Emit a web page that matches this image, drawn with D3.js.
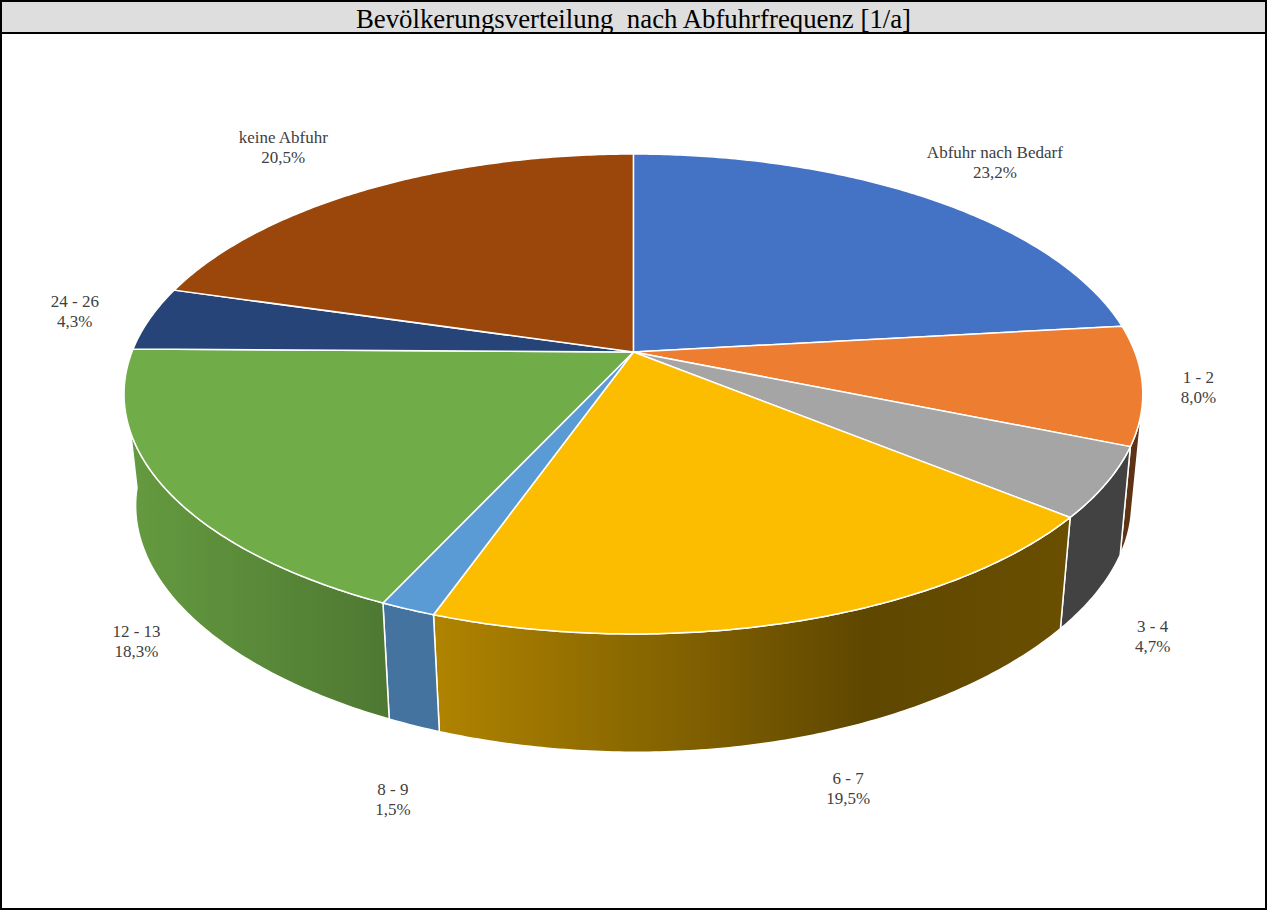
<!DOCTYPE html>
<html>
<head>
<meta charset="utf-8">
<script src="https://cdn.jsdelivr.net/npm/d3@7"></script>
<style>
	html, body { margin: 0; padding: 0; background: #fff; }
	svg { display: block; }
	text { font-family: "Liberation Serif", serif; white-space: pre; }
</style>
</head>
<body>
<div id="chart"></div>
<script>
let chartTitle = "Bevölkerungsverteilung  nach Abfuhrfrequenz [1/a]";
let categories = ["Abfuhr nach Bedarf", "1 - 2", "3 - 4", "6 - 7", "8 - 9", "12 - 13", "24 - 26", "keine Abfuhr"];
let shares = [23.2, 8.0, 4.7, 19.5, 1.5, 18.3, 4.3, 20.5];
let colors = ["#4472C4", "#EC7D31", "#A5A5A5", "#FCBD00", "#5B9BD5", "#70AC47", "#264478", "#9B460B"];

function drawPie() {
	let width = 1267, height = 912;

	let svg = d3.select("#chart").append("svg")
		.attr("width", width)
		.attr("height", height);

	// frame and title bar
	svg.append("rect").attr("x", 1).attr("y", 1).attr("width", width - 2).attr("height", 908)
		.attr("fill", "#fff").attr("stroke", "#000").attr("stroke-width", 2);
	svg.append("rect").attr("x", 2).attr("y", 2).attr("width", width - 4).attr("height", 30).attr("fill", "#dedede");
	svg.append("rect").attr("x", 2).attr("y", 32).attr("width", width - 4).attr("height", 2).attr("fill", "#000");
	svg.append("text")
		.attr("x", 633.5).attr("y", 28)
		.attr("text-anchor", "middle")
		.style("font-size", "26.8px")
		.style("fill", "#000")
		.text(chartTitle);

	// perspective view of the disc: top rim and bottom rim have their own parameters
	let topRim = { cx: 633.4, cy: 352, aL: 501.5, aR: 501.5, b: 232.6, p: 0.175, bulgeL: 0, bulgeR: 0 };
	let bottomRim = { cx: 637.5, cy: 458.5, aL: 482, aR: 465, b: 235, p: 0.2, bulgeL: 0.021, bulgeR: 0.043 };

	function project(rim, angle) {
		let x = Math.sin(angle), y = -Math.cos(angle);
		let w = 1 - rim.p * y;
		let a = x < 0 ? rim.aL : rim.aR;
		let k = 1 + (x < 0 ? rim.bulgeL : rim.bulgeR) * x * x;
		return [rim.cx + a * k * x / w, rim.cy + rim.b * y / w];
	}

	function samples(a0, a1) {
		let n = Math.max(2, Math.ceil((a1 - a0) / 0.01));
		return d3.range(n + 1).map(function (i) { return a0 + (a1 - a0) * i / n; });
	}

	let line = d3.line();
	let arcs = d3.pie().sort(null).value(function (d) { return d; })(shares);

	// the wall runs between these angles, its ends hide behind the top face
	let wallFrom = 103 * Math.PI / 180, wallTo = 263 * Math.PI / 180;

	// darkening of each wall from left to right [offset, factor]
	let wallShade = [
		null,
		[[0, 0.40], [1, 0.40]],
		[[0, 0.40], [1, 0.40]],
		[[0, 0.70], [0.68, 0.375], [1, 0.42]],
		[[0, 0.74], [1, 0.74]],
		[[0, 0.90], [1, 0.70]],
		null,
		null
	];

	let defs = svg.append("defs");
	let walls = svg.append("g");

	arcs.forEach(function (d, i) {
		let a0 = Math.max(d.startAngle, wallFrom), a1 = Math.min(d.endAngle, wallTo);
		if (a1 <= a0 || !wallShade[i]) return;

		let angles = samples(a0, a1);
		let upper = angles.map(function (a) { return project(topRim, a); });
		let lower = angles.map(function (a) { return project(bottomRim, a); }).reverse();
		let outline = upper.concat(lower);
		let base = d3.rgb(colors[i]);

		let grad = defs.append("linearGradient")
			.attr("id", "wall" + i)
			.attr("gradientUnits", "userSpaceOnUse")
			.attr("x1", d3.min(outline, function (p) { return p[0]; })).attr("y1", 0)
			.attr("x2", d3.max(outline, function (p) { return p[0]; })).attr("y2", 0);
		wallShade[i].forEach(function (s) {
			grad.append("stop")
				.attr("offset", s[0])
				.attr("stop-color", d3.rgb(base.r * s[1], base.g * s[1], base.b * s[1]).formatHex());
		});

		walls.append("path")
			.attr("d", line(outline) + "Z")
			.attr("fill", "url(#wall" + i + ")")
			.attr("stroke", "#fff")
			.attr("stroke-width", 1.5)
			.attr("stroke-linejoin", "round");
	});

	// top face
	svg.append("g").selectAll("path")
		.data(arcs)
		.enter().append("path")
		.attr("d", function (d) {
			let rim = samples(d.startAngle, d.endAngle).map(function (a) { return project(topRim, a); });
			return line([[topRim.cx, topRim.cy]].concat(rim)) + "Z";
		})
		.attr("fill", function (d, i) { return colors[i]; })
		.attr("stroke", "#fff")
		.attr("stroke-width", 1.5)
		.attr("stroke-linejoin", "round");

	// labels sit at an offset from the rim point at the middle of the slice
	let labelOffset = [[66, -36], [56, 3], [46, 154], [52, 168], [-15, 191], [-29, 153], [-75, -7], [-86, -41]];

	let labels = svg.append("g").selectAll("text")
		.data(arcs)
		.enter().append("text")
		.attr("text-anchor", "middle")
		.style("font-size", "17px")
		.style("fill", "#404040")
		.attr("transform", function (d, i) {
			let p = project(topRim, (d.startAngle + d.endAngle) / 2);
			return "translate(" + (p[0] + labelOffset[i][0]) + "," + (p[1] + labelOffset[i][1]) + ")";
		});

	labels.append("tspan")
		.attr("x", 0).attr("y", -5)
		.text(function (d, i) { return categories[i]; });
	labels.append("tspan")
		.attr("x", 0).attr("y", 15)
		.text(function (d) { return d3.format(".1f")(d.value).replace(".", ",") + "%"; });
}

drawPie();
</script>
</body>
</html>
